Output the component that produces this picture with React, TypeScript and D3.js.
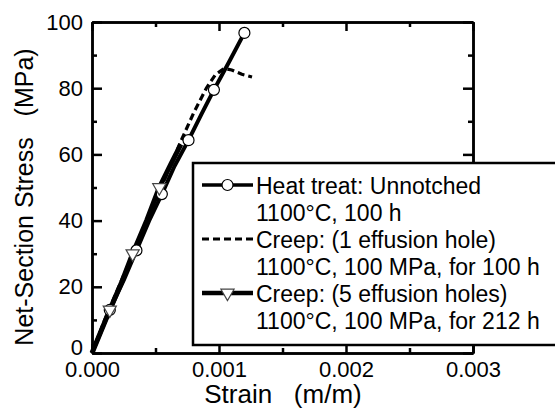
import React, { useRef, useEffect } from "react";
import * as d3 from "d3";

// Heat treat: Unnotched (open circles)
const heatStrain = [0, 0.00014, 0.00025, 0.00035, 0.00045, 0.00055, 0.00065, 0.00076, 0.00086, 0.00096, 0.00108, 0.0012];
const heatStress = [0, 13, 22, 31, 40, 48, 56.5, 64.3, 72, 79.5, 88, 96.7];
const heatMarkers = [1, 3, 5, 7, 9, 11];

// Creep: 1 effusion hole (dashed)
const creep1Strain = [0, 0.0001, 0.0002, 0.0003, 0.0004, 0.0005, 0.0006, 0.0007, 0.0008, 0.0009, 0.00097, 0.00104, 0.0011, 0.00118, 0.00126];
const creep1Stress = [0, 10, 19, 28, 37, 46, 55, 64, 72.5, 80, 84, 86, 85.5, 84.2, 83.4];

// Creep: 5 effusion holes (down triangles)
const creep5Strain = [0, 0.00014, 0.00024, 0.00032, 0.00043, 0.00053, 0.00062, 0.0007];
const creep5Stress = [0, 13, 22, 30, 40, 50, 57, 63];
const creep5Markers = [1, 3, 5];

const strainTicks = [0, 0.001, 0.002, 0.003];
const strainMinor = [0.0005, 0.0015, 0.0025];
const stressTicks = [0, 20, 40, 60, 80, 100];
const stressMinor = [10, 30, 50, 70, 90];

const legendLines = [
  ["Heat treat: Unnotched", "1100°C, 100 h"],
  ["Creep: (1 effusion hole)", "1100°C, 100 MPa, for 100 h"],
  ["Creep: (5 effusion holes)", "1100°C, 100 MPa, for 212 h"],
];

const FONT = "'Liberation Sans', Arial, sans-serif";

export default function App() {
  const svgRef = useRef<SVGSVGElement>(null);

  useEffect(() => {
    const svg = d3.select(svgRef.current);
    svg.selectAll("*").remove();

    const x = d3.scaleLinear().domain([0, 0.003]).range([92, 473]);
    const y = d3.scaleLinear().domain([0, 100]).range([353, 22]);
    const [x0, x1] = x.range();
    const [y0, y1] = y.range();

    const styleAxis = (g) => {
      g.select(".domain").attr("stroke-width", 2.5);
      g.selectAll(".tick line").attr("stroke-width", 2.5);
      g.selectAll("text")
        .attr("font-family", FONT)
        .attr("font-size", 22)
        .attr("fill", "#000");
    };

    // minor ticks
    svg.append("g").attr("transform", `translate(0,${y0})`)
      .call(d3.axisBottom(x).tickValues(strainMinor).tickSizeInner(-5).tickSizeOuter(0).tickFormat(() => ""))
      .call(styleAxis);
    svg.append("g").attr("transform", `translate(0,${y1})`)
      .call(d3.axisTop(x).tickValues(strainMinor).tickSizeInner(-5).tickSizeOuter(0).tickFormat(() => ""))
      .call(styleAxis);
    svg.append("g").attr("transform", `translate(${x0},0)`)
      .call(d3.axisLeft(y).tickValues(stressMinor).tickSizeInner(-5).tickSizeOuter(0).tickFormat(() => ""))
      .call(styleAxis);
    svg.append("g").attr("transform", `translate(${x1},0)`)
      .call(d3.axisRight(y).tickValues(stressMinor).tickSizeInner(-5).tickSizeOuter(0).tickFormat(() => ""))
      .call(styleAxis);

    // major ticks
    svg.append("g").attr("transform", `translate(0,${y1})`)
      .call(d3.axisTop(x).tickValues(strainTicks).tickSizeInner(-9).tickSizeOuter(0).tickFormat(() => ""))
      .call(styleAxis);
    svg.append("g").attr("transform", `translate(${x1},0)`)
      .call(d3.axisRight(y).tickValues(stressTicks).tickSizeInner(-10).tickSizeOuter(0).tickFormat(() => ""))
      .call(styleAxis);
    svg.append("g").attr("transform", `translate(0,${y0})`)
      .call(d3.axisBottom(x).tickValues(strainTicks).tickSizeInner(-9).tickSizeOuter(0).tickPadding(8).tickFormat(d3.format(".3f")))
      .call(styleAxis);
    const yAx = svg.append("g").attr("transform", `translate(${x0},0)`)
      .call(d3.axisLeft(y).tickValues(stressTicks).tickSizeInner(-10).tickSizeOuter(0).tickPadding(9).tickFormat(d3.format("d")))
      .call(styleAxis);
    yAx.selectAll(".tick text").filter((d) => d === 0).attr("y", -6);

    // axis titles
    svg.append("text")
      .attr("x", 283).attr("y", 403)
      .attr("text-anchor", "middle")
      .attr("font-family", FONT).attr("font-size", 26)
      .style("white-space", "pre")
      .text("Strain   (m/m)");
    svg.append("text")
      .attr("transform", `translate(33,197) rotate(-90)`)
      .attr("text-anchor", "middle")
      .attr("font-family", FONT).attr("font-size", 25)
      .style("white-space", "pre")
      .text("Net-Section Stress   (MPa)");

    const line = d3.line<number>()
      .x((d) => d[0])
      .y((d) => d[1]);
    const pts = (xs, ys) => xs.map((v, i) => [x(v), y(ys[i])]);

    const heatPts = pts(heatStrain, heatStress);
    const c1Pts = pts(creep1Strain, creep1Stress);
    const c5Pts = pts(creep5Strain, creep5Stress);

    svg.append("path").attr("d", line(c5Pts)).attr("fill", "none")
      .attr("stroke", "#000").attr("stroke-width", 5).attr("stroke-linejoin", "round");
    svg.append("path").attr("d", line(heatPts)).attr("fill", "none")
      .attr("stroke", "#000").attr("stroke-width", 4).attr("stroke-linejoin", "round");
    svg.append("path").attr("d", line(c1Pts)).attr("fill", "none")
      .attr("stroke", "#000").attr("stroke-width", 3.2).attr("stroke-dasharray", "7,4");

    const tri = d3.symbol().type(d3.symbolTriangle).size(75);

    svg.append("g").selectAll("circle")
      .data(heatMarkers.map((i) => heatPts[i]))
      .join("circle")
      .attr("cx", (d) => d[0]).attr("cy", (d) => d[1]).attr("r", 5.5)
      .attr("fill", "#fff").attr("stroke", "#000").attr("stroke-width", 1.2);

    svg.append("g").selectAll("path")
      .data(creep5Markers.map((i) => c5Pts[i]))
      .join("path")
      .attr("d", tri)
      .attr("transform", (d) => `translate(${d[0]},${d[1]}) rotate(180)`)
      .attr("fill", "#fff").attr("stroke", "#444").attr("stroke-width", 1.2);

    // legend
    const lg = svg.append("g");
    lg.append("rect")
      .attr("x", 193).attr("y", 163).attr("width", 375).attr("height", 182)
      .attr("fill", "#fff").attr("stroke", "#000").attr("stroke-width", 2.5);

    const rowY = [185, 239, 293];
    const sampleX = [202, 253];
    const mid = (sampleX[0] + sampleX[1]) / 2;
    const styles = [
      { w: 3.5, dash: null },
      { w: 3, dash: "7,4" },
      { w: 4.5, dash: null },
    ];
    legendLines.forEach((lines, i) => {
      const ly = rowY[i];
      const ln = lg.append("line")
        .attr("x1", sampleX[0]).attr("x2", sampleX[1])
        .attr("y1", ly).attr("y2", ly)
        .attr("stroke", "#000").attr("stroke-width", styles[i].w);
      if (styles[i].dash) ln.attr("stroke-dasharray", styles[i].dash);
      if (i === 0) {
        lg.append("circle").attr("cx", mid).attr("cy", ly).attr("r", 5.5)
          .attr("fill", "#fff").attr("stroke", "#000").attr("stroke-width", 1.2);
      }
      if (i === 2) {
        lg.append("path").attr("d", tri)
          .attr("transform", `translate(${mid},${ly}) rotate(180)`)
          .attr("fill", "#fff").attr("stroke", "#444").attr("stroke-width", 1.2);
      }
      lines.forEach((t, j) => {
        lg.append("text")
          .attr("x", 256).attr("y", ly + 9 + j * 27)
          .attr("font-family", FONT).attr("font-size", 23)
          .text(t);
      });
    });
  }, []);

  return (
    <svg
      ref={svgRef}
      width={555}
      height={415}
      style={{ position: "absolute", left: 0, top: 0, background: "#fff" }}
    ></svg>
  );
}
